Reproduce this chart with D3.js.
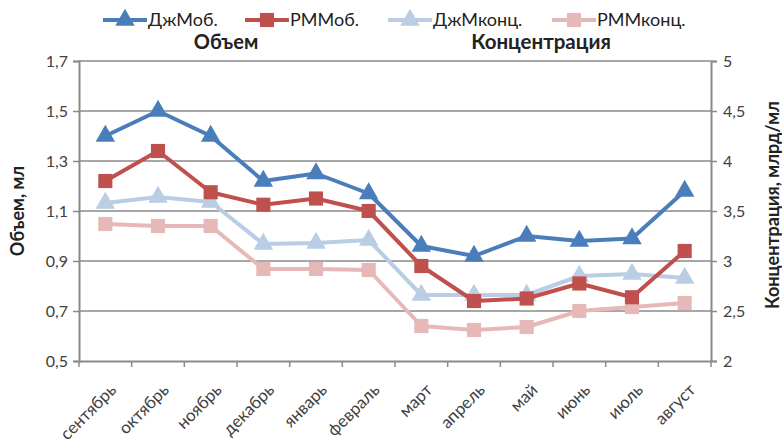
<!DOCTYPE html>
<html><head><meta charset="utf-8">
<script src="https://cdn.jsdelivr.net/npm/d3@7"></script>
<style>body{margin:0;background:#fff}svg{font-family:Lato,"Open Sans",sans-serif}</style>
</head><body><svg id="c" width="782" height="440"></svg>
<script>
const months = ["сентябрь","октябрь","ноябрь","декабрь","январь","февраль","март","апрель","май","июнь","июль","август"];
const djMob = [1.40,1.50,1.40,1.22,1.25,1.17,0.96,0.92,1.00,0.98,0.99,1.18];
const rmMob = [1.22,1.34,1.175,1.125,1.15,1.10,0.88,0.74,0.75,0.81,0.755,0.94];
const djConc = [3.58,3.64,3.59,3.17,3.18,3.21,2.66,2.66,2.66,2.85,2.87,2.83];
const rmConc = [3.37,3.35,3.35,2.92,2.92,2.91,2.35,2.31,2.34,2.50,2.54,2.58];
const leftTicks = [0.5,0.7,0.9,1.1,1.3,1.5,1.7];
const rightTicks = [2,2.5,3,3.5,4,4.5,5];
const seriesNames = ["ДжМоб.","РММоб.","ДжМконц.","РММконц."];

const svg = d3.select("#c");
const L=79, R=711, T=61, B=361;
const x = d3.scaleBand().domain(months).range([L,R]);
const yL = d3.scaleLinear().domain([0.5,1.7]).range([B,T]);
const yR = d3.scaleLinear().domain([2,5]).range([B,T]);
const grid="#8a8a8a", txt="#404040";
const fmt = v => String(v).replace(".", ",");

// gridlines
svg.append("g").selectAll("line").data(leftTicks.slice(1)).join("line")
  .attr("x1",L).attr("x2",R).attr("y1",d=>yL(d)).attr("y2",d=>yL(d))
  .attr("stroke",grid).attr("stroke-width",1.5);

// axes
const ax = svg.append("g").attr("transform",`translate(${L},0)`)
  .call(d3.axisLeft(yL).tickValues(leftTicks).tickFormat(fmt).tickSize(6).tickPadding(5));
const ax2 = svg.append("g").attr("transform",`translate(${R},0)`)
  .call(d3.axisRight(yR).tickValues(rightTicks).tickFormat(fmt).tickSize(6).tickPadding(6));
const ax3 = svg.append("g").attr("transform",`translate(0,${B})`)
  .call(d3.axisBottom(x).tickSize(0).tickFormat(""));
[ax,ax2,ax3].forEach(a=>{
  a.selectAll("path.domain").attr("stroke",grid).attr("stroke-width",2);
  a.selectAll(".tick line").attr("stroke",grid).attr("stroke-width",1.5);
  a.selectAll("text").attr("fill",txt).style("font-size","16px").style("font-family","Lato,'Open Sans',sans-serif");
});
// category boundary ticks
const bounds = months.map(m=>x(m)).concat([R]);
svg.append("g").selectAll("line").data(bounds).join("line")
  .attr("x1",d=>d).attr("x2",d=>d).attr("y1",B).attr("y2",B+6)
  .attr("stroke",grid).attr("stroke-width",1.5);
// x labels
svg.append("g").selectAll("text").data(months).join("text")
  .attr("transform",d=>`translate(${x(d)+x.bandwidth()/2+12},${B+30}) rotate(-45)`)
  .attr("text-anchor","end").attr("fill",txt)
  .style("font-size","17px").text(d=>d);

// axis titles
svg.append("text").attr("transform",`translate(24,${(T+B)/2}) rotate(-90)`)
  .attr("text-anchor","middle").attr("font-weight","bold").attr("fill","#222").style("font-size","18px").text("Объем, мл");
svg.append("text").attr("transform",`translate(779,${(T+B)/2-6}) rotate(-90)`)
  .attr("text-anchor","middle").attr("font-weight","bold").attr("fill","#222").style("font-size","18px").text("Концентрация, млрд/мл");
svg.append("text").attr("x",226).attr("y",49).attr("text-anchor","middle").attr("font-weight","bold").attr("fill","#222").style("font-size","20px").text("Объем");
svg.append("text").attr("x",541).attr("y",49).attr("text-anchor","middle").attr("font-weight","bold").attr("fill","#222").style("font-size","20.5px").text("Концентрация");

const series = [
  {name:seriesNames[0], vals:djMob, y:yL, color:"#4a7ebb", sym:d3.symbolTriangle},
  {name:seriesNames[1], vals:rmMob, y:yL, color:"#c0504d", sym:d3.symbolSquare},
  {name:seriesNames[2], vals:djConc, y:yR, color:"#b9cde5", sym:d3.symbolTriangle},
  {name:seriesNames[3], vals:rmConc, y:yR, color:"#e6b9b8", sym:d3.symbolSquare},
];
const cx = m => x(m)+x.bandwidth()/2;
const symSize = s => s===d3.symbolTriangle ? 165 : 200;
const drawOrder = [3,2,1,0];
drawOrder.forEach(i=>{
  const s = series[i];
  const line = d3.line().x((d,j)=>cx(months[j])).y(d=>s.y(d));
  svg.append("path").datum(s.vals).attr("d",line).attr("fill","none")
    .attr("stroke",s.color).attr("stroke-width",4).attr("stroke-linejoin","round");
  svg.append("g").selectAll("path").data(s.vals).join("path")
    .attr("transform",(d,j)=>`translate(${cx(months[j])},${s.y(d)})`)
    .attr("d",d3.symbol().type(s.sym).size(symSize(s.sym))).attr("fill",s.color);
});

// legend
const legX = [103,245,388,552];
series.forEach((s,i)=>{
  const g = svg.append("g").attr("transform",`translate(${legX[i]},20)`);
  g.append("line").attr("x1",0).attr("x2",44).attr("stroke",s.color).attr("stroke-width",4);
  g.append("path").attr("transform","translate(22,0)").attr("d",d3.symbol().type(s.sym).size(symSize(s.sym))).attr("fill",s.color);
  g.append("text").attr("x",45).attr("dy","0.35em").attr("fill","#222").style("font-size","18px").text(s.name);
});
</script></body></html>
